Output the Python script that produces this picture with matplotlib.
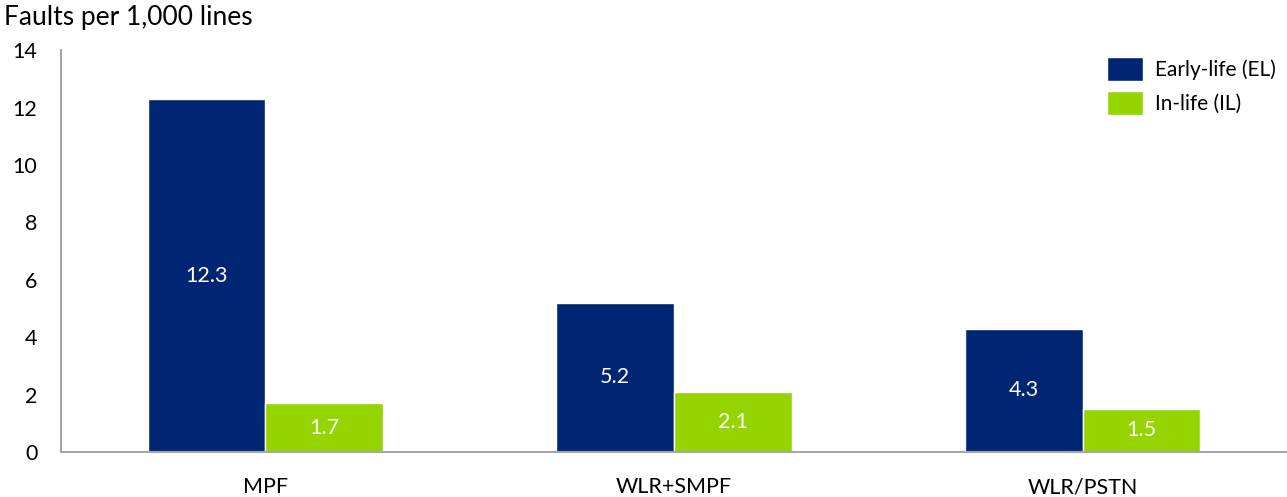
import matplotlib
matplotlib.use("Agg")
import matplotlib.pyplot as plt
import numpy as np

plt.rcParams['font.family'] = ['Lato', 'DejaVu Sans']

categories = ["MPF", "WLR+SMPF", "WLR/PSTN"]
early_life = [12.3, 5.2, 4.3]
in_life = [1.7, 2.1, 1.5]
series_names = ["Early-life (EL)", "In-life (IL)"]
colors = ["#002673", "#96d400"]

fig = plt.figure(figsize=(12.87, 4.97), dpi=100)
ax = fig.add_axes([0.0474, 0.0905, 0.9526, 0.8085])

x = np.arange(len(categories))
w = 0.288
b1 = ax.bar(x - w/2, early_life, w, color=colors[0], edgecolor="white", linewidth=1, label=series_names[0])
b2 = ax.bar(x + w/2, in_life, w, color=colors[1], edgecolor="white", linewidth=1, label=series_names[1])

for bars, vals in ((b1, early_life), (b2, in_life)):
    for r, v in zip(bars, vals):
        ax.text(r.get_x() + r.get_width()/2, v/2, f"{v:.1f}", ha="center", va="center",
                color="white", fontsize=15.5)

ax.set_xlim(-0.5, 2.5)
ax.set_ylim(0, 14)
ax.set_yticks(range(0, 15, 2))
ax.set_xticks(x)
ax.set_xticklabels(categories)
ax.tick_params(axis="both", length=0, labelsize=15.5, colors="black")
ax.tick_params(axis="x", pad=18)
ax.tick_params(axis="y", pad=17)
for s in ("top", "right"):
    ax.spines[s].set_visible(False)
for s in ("left", "bottom"):
    ax.spines[s].set_color("#a6a6a6")
    ax.spines[s].set_linewidth(1.5)

fig.text(0.003, 0.99, "Faults per 1,000 lines", ha="left", va="top", fontsize=19)

ax.legend(loc="upper right", bbox_to_anchor=(1.006, 1.03), frameon=False, fontsize=15,
          handlelength=1.75, handleheight=1.4, labelspacing=0.5, handletextpad=0.55)

fig.savefig("out.png", dpi=100)
